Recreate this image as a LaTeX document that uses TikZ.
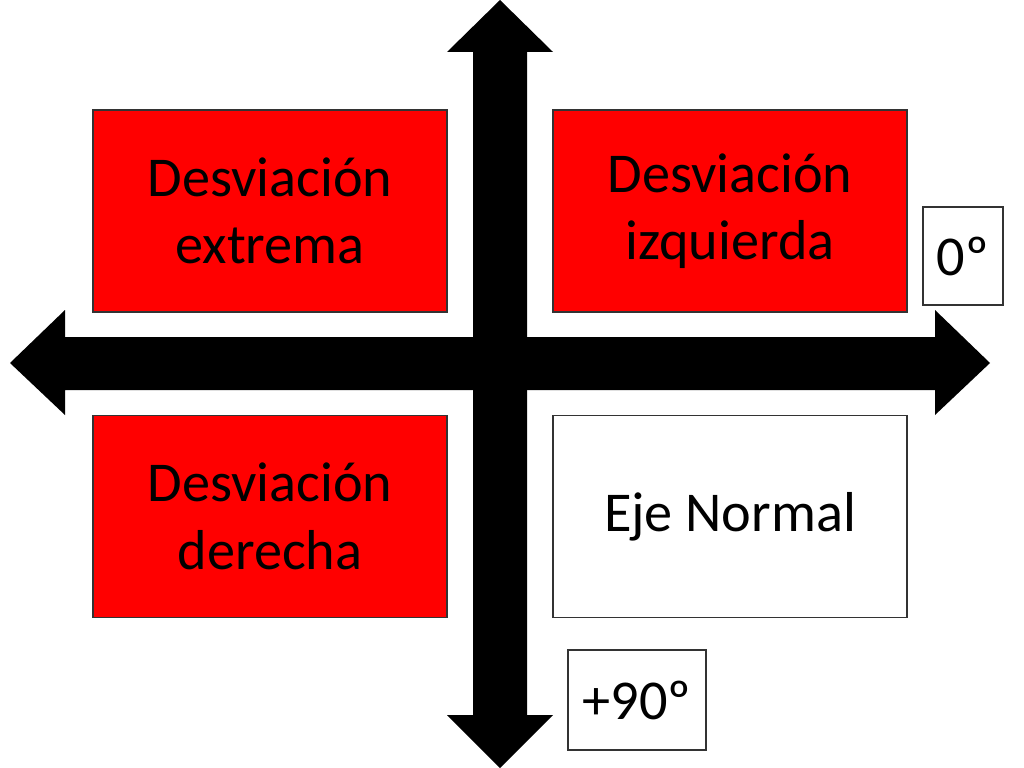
\documentclass[tikz,border=0pt]{standalone}
\usepackage{fontspec}
\setmainfont{Carlito}
\begin{document}
\begin{tikzpicture}[x=0.025cm,y=-0.025cm]
  \tikzstyle{quad}=[draw=black!80,line width=0.8pt,minimum width=8.85cm,minimum height=5.05cm,
    align=center,font=\fontsize{40}{48}\selectfont,inner sep=0pt]
  \tikzstyle{tag}=[draw=black!80,line width=0.8pt,inner sep=0pt,font=\fontsize{40}{48}\selectfont]
  \useasboundingbox (0,0) rectangle (1024,768);

  % axis arrows
  \fill (10,363) -- (65,310) -- (65,337) -- (935,337) -- (935,310) -- (990,363)
    -- (935,415) -- (935,390) -- (65,390) -- (65,415) -- cycle;
  \fill (500,0) -- (553,52) -- (527,52) -- (527,715) -- (553,715) -- (500,768)
    -- (447,715) -- (473,715) -- (473,52) -- (447,52) -- cycle;

  \node[quad,fill=red] (extrema) at (270,211) {Desviación\\extrema};
  \node[quad,fill=red] (izquierda) at (730,211) {Desviación\\izquierda};
  \node[quad,fill=red] (derecha) at (270,516.5) {Desviación\\derecha};
  \node[quad,fill=white] (normal) at (730,516.5) {Eje Normal};

  \node[tag,minimum width=2cm,minimum height=2.45cm] (cero) at (963,256) {0º};
  \node[tag,minimum width=3.45cm,minimum height=2.5cm] (noventa) at (637,700) {+90º};
\end{tikzpicture}
\end{document}
